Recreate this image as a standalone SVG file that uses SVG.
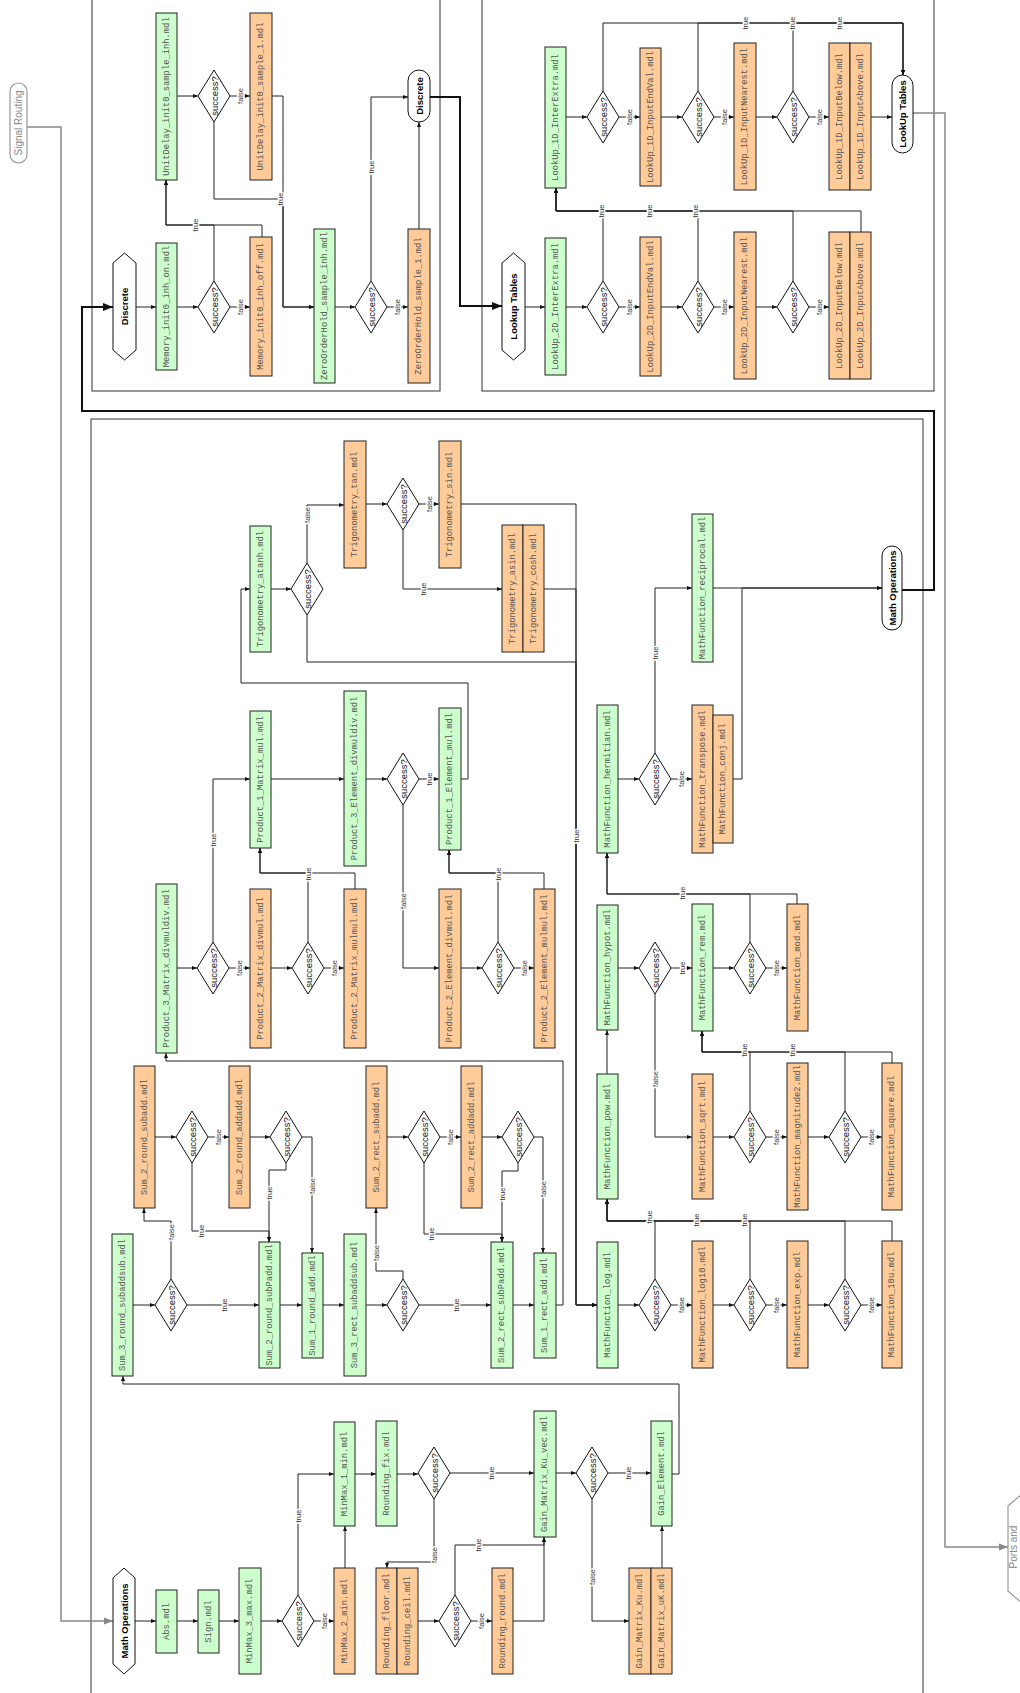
<svg xmlns="http://www.w3.org/2000/svg" width="1020" height="1693" viewBox="0 0 1020 1693">
<style>
.g{fill:#ccffcc;stroke:#222;stroke-width:1}
.o{fill:#ffcc99;stroke:#222;stroke-width:1}
.d{fill:#fff;stroke:#111;stroke-width:1}
.h{fill:#fff;stroke:#111;stroke-width:1}
.hg{fill:#fff;stroke:#999;stroke-width:1.2}
.c{fill:none;stroke:#333;stroke-width:1}
.t{font-family:"Liberation Mono",monospace;font-size:8.8px;fill:#555;text-anchor:middle;dominant-baseline:central}
.s{font-family:"Liberation Sans",Arial,sans-serif;font-size:9.5px;fill:#111;text-anchor:middle;dominant-baseline:central}
.b{font-family:"Liberation Sans",Arial,sans-serif;font-size:9.5px;font-weight:bold;fill:#000;text-anchor:middle;dominant-baseline:central}
.gt{font-family:"Liberation Sans",Arial,sans-serif;font-size:10px;fill:#888;text-anchor:middle;dominant-baseline:central}
.l{font-family:"Liberation Sans",Arial,sans-serif;font-size:7.5px;fill:#333;stroke:#fff;stroke-width:2.5px;paint-order:stroke;text-anchor:middle;dominant-baseline:central}
.e{fill:none;stroke:#222;stroke-width:1;marker-end:url(#a)}
.ew{fill:none;stroke:#111;stroke-width:2;marker-end:url(#a)}
.eg{fill:none;stroke:#888;stroke-width:1.5;marker-end:url(#ag)}
</style>
<defs>
<marker id="a" viewBox="0 0 10 10" refX="10" refY="5" markerWidth="5" markerHeight="5" orient="auto"><path d="M0,1L10,5L0,9z" fill="#111"/></marker>
<marker id="ag" viewBox="0 0 10 10" refX="10" refY="5" markerWidth="6" markerHeight="6" orient="auto"><path d="M0,1L10,5L0,9z" fill="#888"/></marker>
</defs>
<rect width="1020" height="1693" fill="#fff"/>
<g id="clusters">
<rect class="c" x="92" y="-10" width="348" height="401"/>
<rect class="c" x="482" y="-10" width="452" height="401"/>
<rect class="c" x="91" y="419" width="832" height="1290"/>
</g>
<g id="connectors">
<path class="e" d="M136,307H156"/>
<path class="e" d="M177,307H198"/>
<path class="e" d="M230,307H250"/>
<path class="e" d="M214,281V225H166V180"/>
<path class="e" d="M262,237V225H166V180"/>
<path class="e" d="M177,96H198"/>
<path class="e" d="M230,96H250"/>
<path class="e" d="M214,122V199H283V307H314"/>
<path class="e" d="M272,96H283V307H314"/>
<path class="e" d="M335,307H355"/>
<path class="e" d="M387,307H408"/>
<path class="e" d="M371,281V97H408"/>
<path class="e" d="M419,229V122"/>
<path class="ew" d="M430,97H460V306H502"/>
<path class="e" d="M525,307H545"/>
<path class="e" d="M566,307H587"/>
<path class="e" d="M619,307H640"/>
<path class="e" d="M661,307H682"/>
<path class="e" d="M714,307H734"/>
<path class="e" d="M756,307H777"/>
<path class="e" d="M809,307H829"/>
<path class="e" d="M603,281V211H556V188"/>
<path class="e" d="M698,281V211H556V188"/>
<path class="e" d="M793,281V211H556V188"/>
<path class="e" d="M861,232V211H556V188"/>
<path class="e" d="M566,117H587"/>
<path class="e" d="M619,117H640"/>
<path class="e" d="M661,117H682"/>
<path class="e" d="M714,117H734"/>
<path class="e" d="M756,117H777"/>
<path class="e" d="M809,117H829"/>
<path class="e" d="M871,117H892"/>
<path class="e" d="M603,91V23H903V75"/>
<path class="e" d="M698,91V23H903V75"/>
<path class="e" d="M793,91V23H903V75"/>
<path class="eg" d="M913,113H945V1547H1008"/>
<path class="eg" d="M27,127H61V1621H113"/>
<path class="e" d="M135,1621H156"/>
<path class="e" d="M177,1621H198"/>
<path class="e" d="M219,1621H239"/>
<path class="e" d="M261,1621H282"/>
<path class="e" d="M314,1621H334"/>
<path class="e" d="M298,1595V1474H334"/>
<path class="e" d="M345,1568V1526"/>
<path class="e" d="M355,1474H376"/>
<path class="e" d="M397,1474H418"/>
<path class="e" d="M450,1473H534"/>
<path class="e" d="M434,1499V1562H387V1568"/>
<path class="e" d="M418,1621H439"/>
<path class="e" d="M471,1621H492"/>
<path class="e" d="M455,1595V1545H544V1537"/>
<path class="e" d="M513,1621H544V1537"/>
<path class="e" d="M556,1473H576"/>
<path class="e" d="M608,1473H651"/>
<path class="e" d="M592,1499V1621H629"/>
<path class="e" d="M662,1568V1526"/>
<path class="e" d="M672,1474H679V1384H123V1376"/>
<path class="e" d="M133,1305H155"/>
<path class="e" d="M187,1305H259"/>
<path class="e" d="M171,1279V1221H144V1208"/>
<path class="e" d="M155,1137H176"/>
<path class="e" d="M208,1137H229"/>
<path class="e" d="M192,1163V1231H269V1242"/>
<path class="e" d="M250,1137H270"/>
<path class="e" d="M302,1137H312V1253"/>
<path class="e" d="M286,1163V1170H269V1242"/>
<path class="e" d="M280,1305H302"/>
<path class="e" d="M323,1305H344"/>
<path class="e" d="M366,1305H387"/>
<path class="e" d="M419,1305H491"/>
<path class="e" d="M403,1279V1271H376V1208"/>
<path class="e" d="M387,1137H408"/>
<path class="e" d="M440,1137H461"/>
<path class="e" d="M424,1163V1234H502V1242"/>
<path class="e" d="M482,1137H502"/>
<path class="e" d="M534,1137H543V1253"/>
<path class="e" d="M518,1163V1171H502V1242"/>
<path class="e" d="M513,1305H534"/>
<path class="e" d="M556,1305H563V1061H166V1053"/>
<path class="e" d="M177,968H197"/>
<path class="e" d="M229,968H250"/>
<path class="e" d="M213,942V779H250"/>
<path class="e" d="M271,968H292"/>
<path class="e" d="M324,968H344"/>
<path class="e" d="M308,942V873H260V848"/>
<path class="e" d="M355,889V873H260V848"/>
<path class="e" d="M271,779H344"/>
<path class="e" d="M366,779H387"/>
<path class="e" d="M419,779H439"/>
<path class="e" d="M403,805V968H439"/>
<path class="e" d="M461,968H482"/>
<path class="e" d="M514,968H534"/>
<path class="e" d="M498,942V873H449V850"/>
<path class="e" d="M544,889V873H449V850"/>
<path class="e" d="M461,779H468V683H241V589H250"/>
<path class="e" d="M271,589H291"/>
<path class="e" d="M307,563V505H344"/>
<path class="e" d="M307,615V662H576V1305H597"/>
<path class="e" d="M366,504H387"/>
<path class="e" d="M419,504H439"/>
<path class="e" d="M403,530V589H502"/>
<path class="e" d="M461,504H576V1305H597"/>
<path class="e" d="M544,589H576V1305H597"/>
<path class="e" d="M618,1305H639"/>
<path class="e" d="M671,1305H692"/>
<path class="e" d="M713,1305H734"/>
<path class="e" d="M766,1305H787"/>
<path class="e" d="M808,1305H829"/>
<path class="e" d="M861,1305H882"/>
<path class="e" d="M655,1279V1221H607V1199"/>
<path class="e" d="M750,1279V1221H607V1199"/>
<path class="e" d="M845,1279V1221H607V1199"/>
<path class="e" d="M892,1241V1221H607V1199"/>
<path class="e" d="M607,1074V1030"/>
<path class="e" d="M618,968H639"/>
<path class="e" d="M671,968H692"/>
<path class="e" d="M655,994V1137H692"/>
<path class="e" d="M713,968H734"/>
<path class="e" d="M766,968H787"/>
<path class="e" d="M750,942V894H607V853"/>
<path class="e" d="M797,904V894H607V853"/>
<path class="e" d="M713,1137H734"/>
<path class="e" d="M766,1137H787"/>
<path class="e" d="M808,1137H829"/>
<path class="e" d="M861,1137H882"/>
<path class="e" d="M750,1111V1052H702V1031"/>
<path class="e" d="M845,1111V1052H702V1031"/>
<path class="e" d="M892,1063V1052H702V1031"/>
<path class="e" d="M618,779H639"/>
<path class="e" d="M671,779H692"/>
<path class="e" d="M655,753V588H692"/>
<path class="e" d="M713,588H882"/>
<path class="e" d="M733,779H742V588H882"/>
<path class="ew" d="M902,590H934V411H82V307H113"/>
<g id="edge-labels">
<text class="l" x="240" y="307" transform="rotate(-90 240 307)">false</text>
<text class="l" x="195" y="225" transform="rotate(-90 195 225)">true</text>
<text class="l" x="240" y="96" transform="rotate(-90 240 96)">false</text>
<text class="l" x="280" y="199" transform="rotate(-90 280 199)">true</text>
<text class="l" x="397" y="307" transform="rotate(-90 397 307)">false</text>
<text class="l" x="371" y="167" transform="rotate(-90 371 167)">true</text>
<text class="l" x="629" y="307" transform="rotate(-90 629 307)">false</text>
<text class="l" x="724" y="307" transform="rotate(-90 724 307)">false</text>
<text class="l" x="819" y="307" transform="rotate(-90 819 307)">false</text>
<text class="l" x="629" y="117" transform="rotate(-90 629 117)">false</text>
<text class="l" x="724" y="117" transform="rotate(-90 724 117)">false</text>
<text class="l" x="819" y="117" transform="rotate(-90 819 117)">false</text>
<text class="l" x="601" y="211" transform="rotate(-90 601 211)">true</text>
<text class="l" x="649" y="211" transform="rotate(-90 649 211)">true</text>
<text class="l" x="695" y="211" transform="rotate(-90 695 211)">true</text>
<text class="l" x="745" y="23" transform="rotate(-90 745 23)">true</text>
<text class="l" x="792" y="23" transform="rotate(-90 792 23)">true</text>
<text class="l" x="839" y="23" transform="rotate(-90 839 23)">true</text>
<text class="l" x="324" y="1621" transform="rotate(-90 324 1621)">false</text>
<text class="l" x="298" y="1516" transform="rotate(-90 298 1516)">true</text>
<text class="l" x="491" y="1473" transform="rotate(-90 491 1473)">true</text>
<text class="l" x="434" y="1555" transform="rotate(-90 434 1555)">false</text>
<text class="l" x="481" y="1621" transform="rotate(-90 481 1621)">false</text>
<text class="l" x="478" y="1545" transform="rotate(-90 478 1545)">true</text>
<text class="l" x="628" y="1473" transform="rotate(-90 628 1473)">true</text>
<text class="l" x="592" y="1577" transform="rotate(-90 592 1577)">false</text>
<text class="l" x="224" y="1305" transform="rotate(-90 224 1305)">true</text>
<text class="l" x="171" y="1232" transform="rotate(-90 171 1232)">false</text>
<text class="l" x="218" y="1137" transform="rotate(-90 218 1137)">false</text>
<text class="l" x="201" y="1231" transform="rotate(-90 201 1231)">true</text>
<text class="l" x="269" y="1193" transform="rotate(-90 269 1193)">true</text>
<text class="l" x="312" y="1186" transform="rotate(-90 312 1186)">false</text>
<text class="l" x="456" y="1305" transform="rotate(-90 456 1305)">true</text>
<text class="l" x="376" y="1253" transform="rotate(-90 376 1253)">false</text>
<text class="l" x="450" y="1137" transform="rotate(-90 450 1137)">false</text>
<text class="l" x="431" y="1234" transform="rotate(-90 431 1234)">true</text>
<text class="l" x="502" y="1194" transform="rotate(-90 502 1194)">true</text>
<text class="l" x="543" y="1189" transform="rotate(-90 543 1189)">false</text>
<text class="l" x="239" y="968" transform="rotate(-90 239 968)">false</text>
<text class="l" x="213" y="840" transform="rotate(-90 213 840)">true</text>
<text class="l" x="334" y="968" transform="rotate(-90 334 968)">false</text>
<text class="l" x="308" y="874" transform="rotate(-90 308 874)">true</text>
<text class="l" x="429" y="779" transform="rotate(-90 429 779)">true</text>
<text class="l" x="403" y="901" transform="rotate(-90 403 901)">false</text>
<text class="l" x="524" y="968" transform="rotate(-90 524 968)">false</text>
<text class="l" x="498" y="874" transform="rotate(-90 498 874)">true</text>
<text class="l" x="307" y="515" transform="rotate(-90 307 515)">false</text>
<text class="l" x="576" y="836" transform="rotate(-90 576 836)">true</text>
<text class="l" x="429" y="504" transform="rotate(-90 429 504)">false</text>
<text class="l" x="423" y="589" transform="rotate(-90 423 589)">true</text>
<text class="l" x="681" y="1305" transform="rotate(-90 681 1305)">false</text>
<text class="l" x="776" y="1305" transform="rotate(-90 776 1305)">false</text>
<text class="l" x="871" y="1305" transform="rotate(-90 871 1305)">false</text>
<text class="l" x="649" y="1217" transform="rotate(-90 649 1217)">true</text>
<text class="l" x="696" y="1220" transform="rotate(-90 696 1220)">true</text>
<text class="l" x="744" y="1220" transform="rotate(-90 744 1220)">true</text>
<text class="l" x="682" y="968" transform="rotate(-90 682 968)">true</text>
<text class="l" x="655" y="1079" transform="rotate(-90 655 1079)">false</text>
<text class="l" x="776" y="968" transform="rotate(-90 776 968)">false</text>
<text class="l" x="682" y="893" transform="rotate(-90 682 893)">true</text>
<text class="l" x="776" y="1137" transform="rotate(-90 776 1137)">false</text>
<text class="l" x="871" y="1137" transform="rotate(-90 871 1137)">false</text>
<text class="l" x="744" y="1050" transform="rotate(-90 744 1050)">true</text>
<text class="l" x="792" y="1050" transform="rotate(-90 792 1050)">true</text>
<text class="l" x="681" y="779" transform="rotate(-90 681 779)">false</text>
<text class="l" x="655" y="653" transform="rotate(-90 655 653)">true</text>
</g>
</g>
<g id="n-signal-routing"><rect class="hg" x="10" y="83" width="17" height="80" rx="8.5"/><text class="gt" x="18.5" y="123" transform="rotate(-90 18.5 123)">Signal Routing</text></g>
<g id="n-ports"><polygon class="hg" points="1008,1506 1019.5,1496 1031,1506 1031,1591 1019.5,1601 1008,1591"/><text class="gt" x="1013" y="1547" transform="rotate(-90 1013 1547)">Ports and</text></g>
<g id="n-discrete-start"><polygon class="h" points="113,263 124.5,253 136,263 136,350 124.5,360 113,350"/><text class="b" x="124.5" y="306.5" transform="rotate(-90 124.5 306.5)">Discrete</text></g>
<g id="n-memory-on"><rect class="g" x="156" y="243" width="21" height="127"/><text class="t" x="166.5" y="306.5" transform="rotate(-90 166.5 306.5)">Memory_init0_inh_on.mdl</text></g>
<g id="n-d1"><polygon class="d" points="214,281 230,307 214,333 198,307"/><text class="s" x="214" y="307" transform="rotate(-90 214 307)">success?</text></g>
<g id="n-memory-off"><rect class="o" x="250" y="237" width="22" height="139"/><text class="t" x="261" y="306.5" transform="rotate(-90 261 306.5)">Memory_init0_inh_off.mdl</text></g>
<g id="n-unitdelay-inh"><rect class="g" x="156" y="13" width="21" height="167"/><text class="t" x="166.5" y="96.5" transform="rotate(-90 166.5 96.5)">UnitDelay_init0_sample_inh.mdl</text></g>
<g id="n-d2"><polygon class="d" points="214,70 230,96 214,122 198,96"/><text class="s" x="214" y="96" transform="rotate(-90 214 96)">success?</text></g>
<g id="n-unitdelay-1"><rect class="o" x="250" y="13" width="22" height="167"/><text class="t" x="261" y="96.5" transform="rotate(-90 261 96.5)">UnitDelay_init0_sample_1.mdl</text></g>
<g id="n-zoh-inh"><rect class="g" x="314" y="229" width="21" height="154"/><text class="t" x="324.5" y="306" transform="rotate(-90 324.5 306)">ZeroOrderHold_sample_inh.mdl</text></g>
<g id="n-d3"><polygon class="d" points="371,281 387,307 371,333 355,307"/><text class="s" x="371" y="307" transform="rotate(-90 371 307)">success?</text></g>
<g id="n-zoh-1"><rect class="o" x="408" y="229" width="22" height="154"/><text class="t" x="419" y="306" transform="rotate(-90 419 306)">ZeroOrderHold_sample_1.mdl</text></g>
<g id="n-discrete-end"><rect class="h" x="408" y="70" width="22" height="52" rx="11"/><text class="b" x="419" y="96" transform="rotate(-90 419 96)">Discrete</text></g>
<g id="n-lookup-start"><polygon class="h" points="502,263 513.5,253 525,263 525,350 513.5,360 502,350"/><text class="b" x="513.5" y="306.5" transform="rotate(-90 513.5 306.5)">Lookup Tables</text></g>
<g id="n-lu2d-interextra"><rect class="g" x="545" y="238" width="21" height="137"/><text class="t" x="555.5" y="306.5" transform="rotate(-90 555.5 306.5)">LookUp_2D_InterExtra.mdl</text></g>
<g id="n-l2a"><polygon class="d" points="603,281 619,307 603,333 587,307"/><text class="s" x="603" y="307" transform="rotate(-90 603 307)">success?</text></g>
<g id="n-lu2d-endval"><rect class="o" x="640" y="237" width="21" height="139"/><text class="t" x="650.5" y="306.5" transform="rotate(-90 650.5 306.5)">LookUp_2D_InputEndVal.mdl</text></g>
<g id="n-l2b"><polygon class="d" points="698,281 714,307 698,333 682,307"/><text class="s" x="698" y="307" transform="rotate(-90 698 307)">success?</text></g>
<g id="n-lu2d-nearest"><rect class="o" x="734" y="232" width="22" height="147"/><text class="t" x="745" y="305.5" transform="rotate(-90 745 305.5)">LookUp_2D_InputNearest.mdl</text></g>
<g id="n-l2c"><polygon class="d" points="793,281 809,307 793,333 777,307"/><text class="s" x="793" y="307" transform="rotate(-90 793 307)">success?</text></g>
<g id="n-lu2d-belowabove"><rect class="o" x="829" y="232" width="21" height="147"/><rect class="o" x="850" y="232" width="21" height="147"/><text class="t" x="839.5" y="305.5" transform="rotate(-90 839.5 305.5)">LookUp_2D_InputBelow.mdl</text><text class="t" x="860.5" y="305.5" transform="rotate(-90 860.5 305.5)">LookUp_2D_InputAbove.mdl</text></g>
<g id="n-lu1d-interextra"><rect class="g" x="545" y="47" width="21" height="141"/><text class="t" x="555.5" y="117.5" transform="rotate(-90 555.5 117.5)">LookUp_1D_InterExtra.mdl</text></g>
<g id="n-l1a"><polygon class="d" points="603,91 619,117 603,143 587,117"/><text class="s" x="603" y="117" transform="rotate(-90 603 117)">success?</text></g>
<g id="n-lu1d-endval"><rect class="o" x="640" y="48" width="21" height="138"/><text class="t" x="650.5" y="117" transform="rotate(-90 650.5 117)">LookUp_1D_InputEndVal.mdl</text></g>
<g id="n-l1b"><polygon class="d" points="698,91 714,117 698,143 682,117"/><text class="s" x="698" y="117" transform="rotate(-90 698 117)">success?</text></g>
<g id="n-lu1d-nearest"><rect class="o" x="734" y="43" width="22" height="147"/><text class="t" x="745" y="116.5" transform="rotate(-90 745 116.5)">LookUp_1D_InputNearest.mdl</text></g>
<g id="n-l1c"><polygon class="d" points="793,91 809,117 793,143 777,117"/><text class="s" x="793" y="117" transform="rotate(-90 793 117)">success?</text></g>
<g id="n-lu1d-belowabove"><rect class="o" x="829" y="43" width="21" height="147"/><rect class="o" x="850" y="43" width="21" height="147"/><text class="t" x="839.5" y="116.5" transform="rotate(-90 839.5 116.5)">LookUp_1D_InputBelow.mdl</text><text class="t" x="860.5" y="116.5" transform="rotate(-90 860.5 116.5)">LookUp_1D_InputAbove.mdl</text></g>
<g id="n-lookup-end"><rect class="h" x="892" y="75" width="21" height="78" rx="10.5"/><text class="b" x="902.5" y="114" transform="rotate(-90 902.5 114)">LookUp Tables</text></g>
<g id="n-math-start"><polygon class="h" points="113,1578 124,1568 135,1578 135,1664 124,1674 113,1664"/><text class="b" x="124" y="1621" transform="rotate(-90 124 1621)">Math Operations</text></g>
<g id="n-abs"><rect class="g" x="156" y="1590" width="21" height="63"/><text class="t" x="166.5" y="1621.5" transform="rotate(-90 166.5 1621.5)">Abs.mdl</text></g>
<g id="n-sign"><rect class="g" x="198" y="1590" width="21" height="63"/><text class="t" x="208.5" y="1621.5" transform="rotate(-90 208.5 1621.5)">Sign.mdl</text></g>
<g id="n-minmax3"><rect class="g" x="239" y="1568" width="22" height="106"/><text class="t" x="250" y="1621" transform="rotate(-90 250 1621)">MinMax_3_max.mdl</text></g>
<g id="n-m1"><polygon class="d" points="298,1595 314,1621 298,1647 282,1621"/><text class="s" x="298" y="1621" transform="rotate(-90 298 1621)">success?</text></g>
<g id="n-minmax1"><rect class="g" x="334" y="1422" width="21" height="104"/><text class="t" x="344.5" y="1474" transform="rotate(-90 344.5 1474)">MinMax_1_min.mdl</text></g>
<g id="n-minmax2"><rect class="o" x="334" y="1568" width="21" height="106"/><text class="t" x="344.5" y="1621" transform="rotate(-90 344.5 1621)">MinMax_2_min.mdl</text></g>
<g id="n-rounding-fix"><rect class="g" x="376" y="1421" width="21" height="105"/><text class="t" x="386.5" y="1473.5" transform="rotate(-90 386.5 1473.5)">Rounding_fix.mdl</text></g>
<g id="n-rf"><polygon class="d" points="434,1447 450,1473 434,1499 418,1473"/><text class="s" x="434" y="1473" transform="rotate(-90 434 1473)">success?</text></g>
<g id="n-rounding-floorceil"><rect class="o" x="376" y="1568" width="21" height="106"/><rect class="o" x="397" y="1568" width="21" height="106"/><text class="t" x="386.5" y="1621" transform="rotate(-90 386.5 1621)">Rounding_floor.mdl</text><text class="t" x="407.5" y="1621" transform="rotate(-90 407.5 1621)">Rounding_ceil.mdl</text></g>
<g id="n-rr"><polygon class="d" points="455,1595 471,1621 455,1647 439,1621"/><text class="s" x="455" y="1621" transform="rotate(-90 455 1621)">success?</text></g>
<g id="n-rounding-round"><rect class="o" x="492" y="1568" width="21" height="106"/><text class="t" x="502.5" y="1621" transform="rotate(-90 502.5 1621)">Rounding_round.mdl</text></g>
<g id="n-gain-kuvec"><rect class="g" x="534" y="1411" width="22" height="126"/><text class="t" x="545" y="1474" transform="rotate(-90 545 1474)">Gain_Matrix_Ku_vec.mdl</text></g>
<g id="n-g"><polygon class="d" points="592,1447 608,1473 592,1499 576,1473"/><text class="s" x="592" y="1473" transform="rotate(-90 592 1473)">success?</text></g>
<g id="n-gain-element"><rect class="g" x="651" y="1421" width="21" height="105"/><text class="t" x="661.5" y="1473.5" transform="rotate(-90 661.5 1473.5)">Gain_Element.mdl</text></g>
<g id="n-gain-kuuk"><rect class="o" x="629" y="1568" width="22" height="106"/><rect class="o" x="651" y="1568" width="21" height="106"/><text class="t" x="640" y="1621" transform="rotate(-90 640 1621)">Gain_Matrix_Ku.mdl</text><text class="t" x="661.5" y="1621" transform="rotate(-90 661.5 1621)">Gain_Matrix_uK.mdl</text></g>
<g id="n-sum3-round"><rect class="g" x="112" y="1234" width="21" height="142"/><text class="t" x="122.5" y="1305" transform="rotate(-90 122.5 1305)">Sum_3_round_subaddsub.mdl</text></g>
<g id="n-s1"><polygon class="d" points="171,1279 187,1305 171,1331 155,1305"/><text class="s" x="171" y="1305" transform="rotate(-90 171 1305)">success?</text></g>
<g id="n-sum2-round-subpadd"><rect class="g" x="259" y="1242" width="21" height="126"/><text class="t" x="269.5" y="1305" transform="rotate(-90 269.5 1305)">Sum_2_round_subPadd.mdl</text></g>
<g id="n-sum1-round"><rect class="g" x="302" y="1253" width="21" height="105"/><text class="t" x="312.5" y="1305.5" transform="rotate(-90 312.5 1305.5)">Sum_1_round_add.mdl</text></g>
<g id="n-sum2-round-subadd"><rect class="o" x="134" y="1066" width="21" height="142"/><text class="t" x="144.5" y="1137" transform="rotate(-90 144.5 1137)">Sum_2_round_subadd.mdl</text></g>
<g id="n-r3"><polygon class="d" points="192,1111 208,1137 192,1163 176,1137"/><text class="s" x="192" y="1137" transform="rotate(-90 192 1137)">success?</text></g>
<g id="n-sum2-round-addadd"><rect class="o" x="229" y="1066" width="21" height="142"/><text class="t" x="239.5" y="1137" transform="rotate(-90 239.5 1137)">Sum_2_round_addadd.mdl</text></g>
<g id="n-r4"><polygon class="d" points="286,1111 302,1137 286,1163 270,1137"/><text class="s" x="286" y="1137" transform="rotate(-90 286 1137)">success?</text></g>
<g id="n-sum3-rect"><rect class="g" x="344" y="1234" width="22" height="142"/><text class="t" x="355" y="1305" transform="rotate(-90 355 1305)">Sum_3_rect_subaddsub.mdl</text></g>
<g id="n-s2"><polygon class="d" points="403,1279 419,1305 403,1331 387,1305"/><text class="s" x="403" y="1305" transform="rotate(-90 403 1305)">success?</text></g>
<g id="n-sum2-rect-subpadd"><rect class="g" x="491" y="1242" width="22" height="126"/><text class="t" x="502" y="1305" transform="rotate(-90 502 1305)">Sum_2_rect_subPadd.mdl</text></g>
<g id="n-sum1-rect"><rect class="g" x="534" y="1253" width="22" height="105"/><text class="t" x="545" y="1305.5" transform="rotate(-90 545 1305.5)">Sum_1_rect_add.mdl</text></g>
<g id="n-sum2-rect-subadd"><rect class="o" x="366" y="1066" width="21" height="142"/><text class="t" x="376.5" y="1137" transform="rotate(-90 376.5 1137)">Sum_2_rect_subadd.mdl</text></g>
<g id="n-s3"><polygon class="d" points="424,1111 440,1137 424,1163 408,1137"/><text class="s" x="424" y="1137" transform="rotate(-90 424 1137)">success?</text></g>
<g id="n-sum2-rect-addadd"><rect class="o" x="461" y="1066" width="21" height="142"/><text class="t" x="471.5" y="1137" transform="rotate(-90 471.5 1137)">Sum_2_rect_addadd.mdl</text></g>
<g id="n-s4"><polygon class="d" points="518,1111 534,1137 518,1163 502,1137"/><text class="s" x="518" y="1137" transform="rotate(-90 518 1137)">success?</text></g>
<g id="n-prod3-matrix"><rect class="g" x="156" y="884" width="21" height="169"/><text class="t" x="166.5" y="968.5" transform="rotate(-90 166.5 968.5)">Product_3_Matrix_divmuldiv.mdl</text></g>
<g id="n-p1"><polygon class="d" points="213,942 229,968 213,994 197,968"/><text class="s" x="213" y="968" transform="rotate(-90 213 968)">success?</text></g>
<g id="n-prod2-matrix-divmul"><rect class="o" x="250" y="889" width="21" height="159"/><text class="t" x="260.5" y="968.5" transform="rotate(-90 260.5 968.5)">Product_2_Matrix_divmul.mdl</text></g>
<g id="n-p2"><polygon class="d" points="308,942 324,968 308,994 292,968"/><text class="s" x="308" y="968" transform="rotate(-90 308 968)">success?</text></g>
<g id="n-prod2-matrix-mulmul"><rect class="o" x="344" y="889" width="22" height="159"/><text class="t" x="355" y="968.5" transform="rotate(-90 355 968.5)">Product_2_Matrix_mulmul.mdl</text></g>
<g id="n-prod1-matrix"><rect class="g" x="250" y="711" width="21" height="137"/><text class="t" x="260.5" y="779.5" transform="rotate(-90 260.5 779.5)">Product_1_Matrix_mul.mdl</text></g>
<g id="n-prod3-element"><rect class="g" x="344" y="691" width="22" height="175"/><text class="t" x="355" y="778.5" transform="rotate(-90 355 778.5)">Product_3_Element_divmuldiv.mdl</text></g>
<g id="n-p3"><polygon class="d" points="403,753 419,779 403,805 387,779"/><text class="s" x="403" y="779" transform="rotate(-90 403 779)">success?</text></g>
<g id="n-prod1-element"><rect class="g" x="439" y="708" width="22" height="142"/><text class="t" x="450" y="779" transform="rotate(-90 450 779)">Product_1_Element_mul.mdl</text></g>
<g id="n-prod2-element-divmul"><rect class="o" x="439" y="889" width="22" height="159"/><text class="t" x="450" y="968.5" transform="rotate(-90 450 968.5)">Product_2_Element_divmul.mdl</text></g>
<g id="n-p4"><polygon class="d" points="498,942 514,968 498,994 482,968"/><text class="s" x="498" y="968" transform="rotate(-90 498 968)">success?</text></g>
<g id="n-prod2-element-mulmul"><rect class="o" x="534" y="889" width="21" height="159"/><text class="t" x="544.5" y="968.5" transform="rotate(-90 544.5 968.5)">Product_2_Element_mulmul.mdl</text></g>
<g id="n-trig-atanh"><rect class="g" x="250" y="526" width="21" height="126"/><text class="t" x="260.5" y="589" transform="rotate(-90 260.5 589)">Trigonometry_atanh.mdl</text></g>
<g id="n-t1"><polygon class="d" points="307,563 323,589 307,615 291,589"/><text class="s" x="307" y="589" transform="rotate(-90 307 589)">success?</text></g>
<g id="n-trig-tan"><rect class="o" x="344" y="441" width="22" height="127"/><text class="t" x="355" y="504.5" transform="rotate(-90 355 504.5)">Trigonometry_tan.mdl</text></g>
<g id="n-t2"><polygon class="d" points="403,478 419,504 403,530 387,504"/><text class="s" x="403" y="504" transform="rotate(-90 403 504)">success?</text></g>
<g id="n-trig-sin"><rect class="o" x="439" y="441" width="22" height="127"/><text class="t" x="450" y="504.5" transform="rotate(-90 450 504.5)">Trigonometry_sin.mdl</text></g>
<g id="n-trig-asincosh"><rect class="o" x="502" y="525" width="21" height="127"/><rect class="o" x="523" y="525" width="21" height="127"/><text class="t" x="512.5" y="588.5" transform="rotate(-90 512.5 588.5)">Trigonometry_asin.mdl</text><text class="t" x="533.5" y="588.5" transform="rotate(-90 533.5 588.5)">Trigonometry_cosh.mdl</text></g>
<g id="n-mf-log"><rect class="g" x="597" y="1242" width="21" height="126"/><text class="t" x="607.5" y="1305" transform="rotate(-90 607.5 1305)">MathFunction_log.mdl</text></g>
<g id="n-lg1"><polygon class="d" points="655,1279 671,1305 655,1331 639,1305"/><text class="s" x="655" y="1305" transform="rotate(-90 655 1305)">success?</text></g>
<g id="n-mf-log10"><rect class="o" x="692" y="1241" width="21" height="127"/><text class="t" x="702.5" y="1304.5" transform="rotate(-90 702.5 1304.5)">MathFunction_log10.mdl</text></g>
<g id="n-lg2"><polygon class="d" points="750,1279 766,1305 750,1331 734,1305"/><text class="s" x="750" y="1305" transform="rotate(-90 750 1305)">success?</text></g>
<g id="n-mf-exp"><rect class="o" x="787" y="1241" width="21" height="127"/><text class="t" x="797.5" y="1304.5" transform="rotate(-90 797.5 1304.5)">MathFunction_exp.mdl</text></g>
<g id="n-lg3"><polygon class="d" points="845,1279 861,1305 845,1331 829,1305"/><text class="s" x="845" y="1305" transform="rotate(-90 845 1305)">success?</text></g>
<g id="n-mf-10u"><rect class="o" x="882" y="1241" width="20" height="127"/><text class="t" x="892" y="1304.5" transform="rotate(-90 892 1304.5)">MathFunction_10u.mdl</text></g>
<g id="n-mf-pow"><rect class="g" x="597" y="1074" width="21" height="125"/><text class="t" x="607.5" y="1136.5" transform="rotate(-90 607.5 1136.5)">MathFunction_pow.mdl</text></g>
<g id="n-mf-hypot"><rect class="g" x="597" y="905" width="21" height="125"/><text class="t" x="607.5" y="967.5" transform="rotate(-90 607.5 967.5)">MathFunction_hypot.mdl</text></g>
<g id="n-h1"><polygon class="d" points="655,942 671,968 655,994 639,968"/><text class="s" x="655" y="968" transform="rotate(-90 655 968)">success?</text></g>
<g id="n-mf-rem"><rect class="g" x="692" y="904" width="21" height="127"/><text class="t" x="702.5" y="967.5" transform="rotate(-90 702.5 967.5)">MathFunction_rem.mdl</text></g>
<g id="n-rm"><polygon class="d" points="750,942 766,968 750,994 734,968"/><text class="s" x="750" y="968" transform="rotate(-90 750 968)">success?</text></g>
<g id="n-mf-mod"><rect class="o" x="787" y="904" width="21" height="127"/><text class="t" x="797.5" y="967.5" transform="rotate(-90 797.5 967.5)">MathFunction_mod.mdl</text></g>
<g id="n-mf-sqrt"><rect class="o" x="692" y="1074" width="21" height="125"/><text class="t" x="702.5" y="1136.5" transform="rotate(-90 702.5 1136.5)">MathFunction_sqrt.mdl</text></g>
<g id="n-q1"><polygon class="d" points="750,1111 766,1137 750,1163 734,1137"/><text class="s" x="750" y="1137" transform="rotate(-90 750 1137)">success?</text></g>
<g id="n-mf-magnitude2"><rect class="o" x="787" y="1063" width="21" height="147"/><text class="t" x="797.5" y="1136.5" transform="rotate(-90 797.5 1136.5)">MathFunction_magnitude2.mdl</text></g>
<g id="n-q2"><polygon class="d" points="845,1111 861,1137 845,1163 829,1137"/><text class="s" x="845" y="1137" transform="rotate(-90 845 1137)">success?</text></g>
<g id="n-mf-square"><rect class="o" x="882" y="1063" width="20" height="147"/><text class="t" x="892" y="1136.5" transform="rotate(-90 892 1136.5)">MathFunction_square.mdl</text></g>
<g id="n-mf-hermitian"><rect class="g" x="597" y="705" width="21" height="148"/><text class="t" x="607.5" y="779" transform="rotate(-90 607.5 779)">MathFunction_hermitian.mdl</text></g>
<g id="n-he"><polygon class="d" points="655,753 671,779 655,805 639,779"/><text class="s" x="655" y="779" transform="rotate(-90 655 779)">success?</text></g>
<g id="n-mf-transposeconj"><rect class="o" x="692" y="705" width="21" height="148"/><rect class="o" x="713" y="715" width="20" height="128"/><text class="t" x="702.5" y="779" transform="rotate(-90 702.5 779)">MathFunction_transpose.mdl</text><text class="t" x="723" y="779" transform="rotate(-90 723 779)">MathFunction_conj.mdl</text></g>
<g id="n-mf-reciprocal"><rect class="g" x="692" y="514" width="21" height="148"/><text class="t" x="702.5" y="588" transform="rotate(-90 702.5 588)">MathFunction_reciprocal.mdl</text></g>
<g id="n-math-end"><rect class="h" x="882" y="546" width="20" height="84" rx="10"/><text class="b" x="892" y="588" transform="rotate(-90 892 588)">Math Operations</text></g>
</svg>
